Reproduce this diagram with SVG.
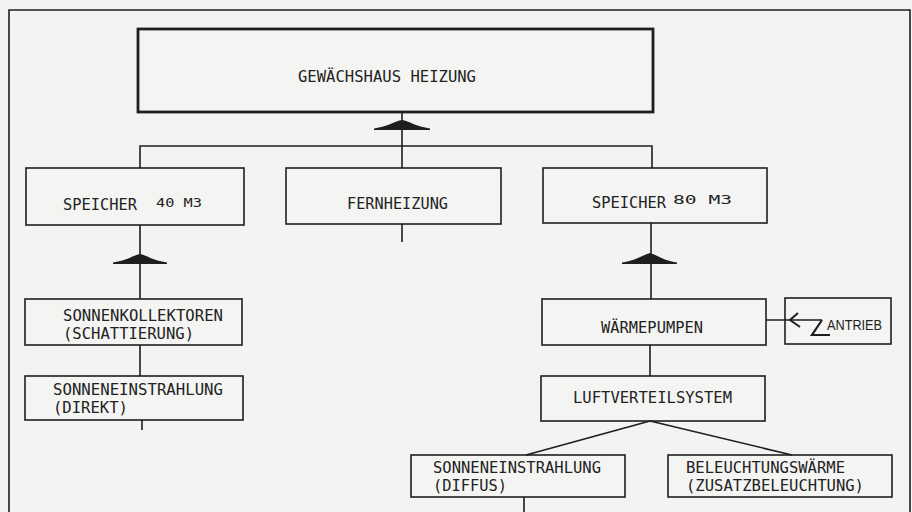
<svg xmlns="http://www.w3.org/2000/svg" width="912" height="512" viewBox="0 0 912 512">
<style>
.bg{fill:#f3f3f2}
.box{fill:#f4f4f3;stroke:#1e1e1e;stroke-width:1.6}
.main{fill:#f4f4f3;stroke:#1e1e1e;stroke-width:2.8}
.ln{fill:none;stroke:#1e1e1e;stroke-width:1.6}
.hat{fill:#1e1e1e;stroke:none}
.t{font-family:"DejaVu Sans Mono","Liberation Mono",monospace;font-size:15px;fill:#222}
.s{font-family:"DejaVu Sans Mono","Liberation Mono",monospace;font-size:13px;fill:#222}
.a{font-family:"Liberation Sans",Arial,sans-serif;font-size:14px;fill:#222}
</style>
<rect class="bg" x="0" y="0" width="912" height="512"/>
<path class="ln" d="M9,520 V10 H910 V520"/>
<g id="gewaechshaus">
<rect class="main" x="138" y="29" width="515" height="83"/>
<text class="t" x="298" y="82" textLength="178" lengthAdjust="spacingAndGlyphs">GEWÄCHSHAUS HEIZUNG</text>
</g>
<g id="speicher40">
<rect class="box" x="26" y="168" width="218" height="57"/>
<text class="t" x="63" y="210" textLength="74" lengthAdjust="spacingAndGlyphs">SPEICHER</text>
<text class="s" x="156" y="207" textLength="46" lengthAdjust="spacingAndGlyphs">40 M3</text>
</g>
<g id="fernheizung">
<rect class="box" x="286" y="168" width="215" height="56"/>
<text class="t" x="347" y="209" textLength="101" lengthAdjust="spacingAndGlyphs">FERNHEIZUNG</text>
</g>
<g id="speicher80">
<rect class="box" x="543" y="168" width="224" height="55"/>
<text class="t" x="592" y="208" textLength="74" lengthAdjust="spacingAndGlyphs">SPEICHER</text>
<text class="s" x="673" y="204" textLength="59" lengthAdjust="spacingAndGlyphs">80 M3</text>
</g>
<g id="sonnenkollektoren">
<rect class="box" x="25" y="299" width="217" height="46"/>
<text class="t" x="63" y="321" textLength="160" lengthAdjust="spacingAndGlyphs">SONNENKOLLEKTOREN</text>
<text class="t" x="63" y="339" textLength="131" lengthAdjust="spacingAndGlyphs">(SCHATTIERUNG)</text>
</g>
<g id="sonneneinstrahlung-direkt">
<rect class="box" x="25" y="376" width="218" height="44"/>
<text class="t" x="53" y="395" textLength="170" lengthAdjust="spacingAndGlyphs">SONNENEINSTRAHLUNG</text>
<text class="t" x="53" y="413" textLength="75" lengthAdjust="spacingAndGlyphs">(DIREKT)</text>
</g>
<g id="waermepumpen">
<rect class="box" x="542" y="299" width="224" height="46"/>
<text class="t" x="601" y="333" textLength="102" lengthAdjust="spacingAndGlyphs">WÄRMEPUMPEN</text>
</g>
<g id="antrieb">
<rect class="box" x="785" y="298" width="106" height="46"/>
<text class="a" x="827" y="330" textLength="55" lengthAdjust="spacingAndGlyphs">ANTRIEB</text>
</g>
<g id="luftverteilsystem">
<rect class="box" x="541" y="376" width="224" height="45"/>
<text class="t" x="573" y="403" textLength="159" lengthAdjust="spacingAndGlyphs">LUFTVERTEILSYSTEM</text>
</g>
<g id="sonneneinstrahlung-diffus">
<rect class="box" x="411" y="455" width="214" height="42"/>
<text class="t" x="433" y="473" textLength="168" lengthAdjust="spacingAndGlyphs">SONNENEINSTRAHLUNG</text>
<text class="t" x="433" y="491" textLength="74" lengthAdjust="spacingAndGlyphs">(DIFFUS)</text>
</g>
<g id="beleuchtungswaerme">
<rect class="box" x="668" y="455" width="224" height="42"/>
<text class="t" x="686" y="473" textLength="159" lengthAdjust="spacingAndGlyphs">BELEUCHTUNGSWÄRME</text>
<text class="t" x="686" y="491" textLength="178" lengthAdjust="spacingAndGlyphs">(ZUSATZBELEUCHTUNG)</text>
</g>
<g id="connectors">
<path class="ln" d="M402,113 V168 M140,168 V146 H652 V168 M402,224 V242"/>
<path class="hat" d="M374,130 L374,128.5 C388,126.5 395,121 402,120 C409,121 416,126.5 430,128.5 L430,130 Z"/>
<path class="ln" d="M140,225 V299 M140,345 V376 M142,420 V430"/>
<path class="hat" d="M113,264 L113,262.5 C127,260.5 134,255 140,254 C146,255 153,260.5 167,262.5 L167,264 Z"/>
<path class="ln" d="M651,223 V299 M650,345 V376"/>
<path class="hat" d="M622,264 L622,262.5 C636,260.5 643,255 650,253 C657,255 663,260.5 677,262.5 L677,264 Z"/>
<path class="ln" d="M650,421 L526,455 M650,421 L792,455 M524,497 V512"/>
<path class="ln" d="M766,320 H822"/>
<path class="ln" d="M798,313 L790,320 L800,327" style="stroke-width:2"/>
<path class="ln" d="M822,320 L812,335 H830" style="stroke-width:2.2"/>
</g>
</svg>
